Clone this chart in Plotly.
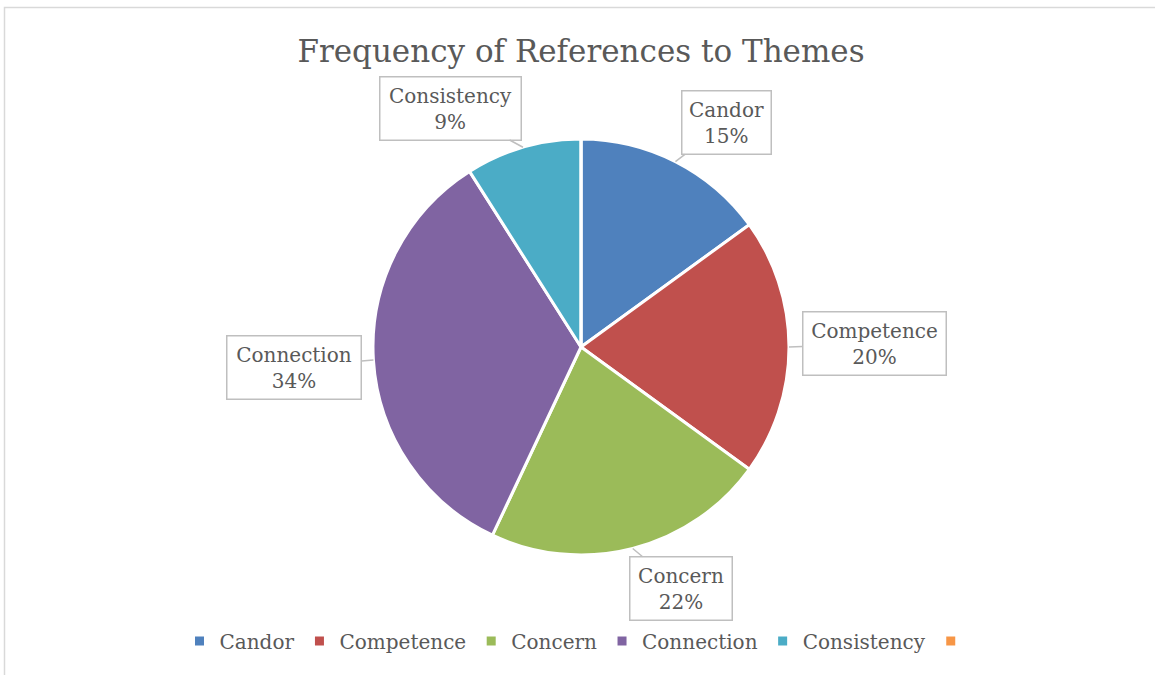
import math
import plotly.graph_objects as go

# ---- data ----
themes = ["Candor", "Competence", "Concern", "Connection", "Consistency", " "]
counts = [15, 20, 22, 34, 9, 0]
colors = ["#4F81BD", "#C0504D", "#9BBB59", "#8064A2", "#4BACC6", "#F79646"]
title_text = "Frequency of References to Themes"

# ---- layout constants ----
W, H = 1155, 675
cx, cy, r = 581, 347, 208          # pie centre / radius in pixels
FONT = "DejaVu Serif"
GREY = "#595959"

# offsets (pixels) from slice edge to label box centre
label_offsets = {
    "Candor": (51, -39),
    "Competence": (85, -4),
    "Concern": (48, 40),
    "Connection": (-79, 7),
    "Consistency": (-72, -39),
}
label_widths = {"Candor": 80, "Competence": 134, "Concern": 93,
                "Connection": 125, "Consistency": 132}

fig = go.Figure()
fig.add_trace(go.Pie(
    labels=themes,
    values=counts,
    sort=False,
    direction="clockwise",
    rotation=0,
    marker=dict(colors=colors, line=dict(color="white", width=3)),
    textinfo="none",
    hoverinfo="label+percent",
    domain=dict(x=[(cx - r) / W, (cx + r) / W],
                y=[1 - (cy + r) / H, 1 - (cy - r) / H]),
    showlegend=True,
))

total = sum(counts)
annotations = []
cum = 0
for name, v in zip(themes, counts):
    if v <= 0:
        continue
    mid = (cum + v / 2) / total * 2 * math.pi
    cum += v
    px = cx + r * math.sin(mid)
    py = cy - r * math.cos(mid)
    ax, ay = label_offsets[name]
    pct = round(v / total * 100)
    annotations.append(dict(
        x=px / W, y=1 - py / H, xref="paper", yref="paper",
        text=f"{name}<br>{pct}%",
        showarrow=True, arrowhead=0, arrowwidth=1.5, arrowcolor="#BFBFBF",
        ax=ax, ay=ay,
        bordercolor="#BFBFBF", borderwidth=1.5, borderpad=4,
        bgcolor="white", width=label_widths[name], height=54,
        font=dict(family=FONT, size=20, color=GREY),
    ))

fig.update_layout(
    width=W, height=H,
    margin=dict(l=0, r=0, t=0, b=0),
    paper_bgcolor="white",
    font=dict(family=FONT, color=GREY),
    title=dict(text=title_text, x=581 / W, xanchor="center",
               y=1 - 51 / H, yanchor="middle",
               font=dict(family=FONT, size=31, color=GREY)),
    legend=dict(orientation="h", x=581 / W, xanchor="center",
                y=1 - 641 / H, yanchor="middle",
                font=dict(family=FONT, size=20, color=GREY),
                itemwidth=30, traceorder="normal"),
    annotations=annotations,
    shapes=[dict(type="rect", xref="paper", yref="paper",
                 x0=4.5 / W, x1=1.01, y0=-0.01, y1=1 - 7.5 / H,
                 line=dict(color="#D9D9D9", width=1.5))],
)

fig.write_html("out.html")
